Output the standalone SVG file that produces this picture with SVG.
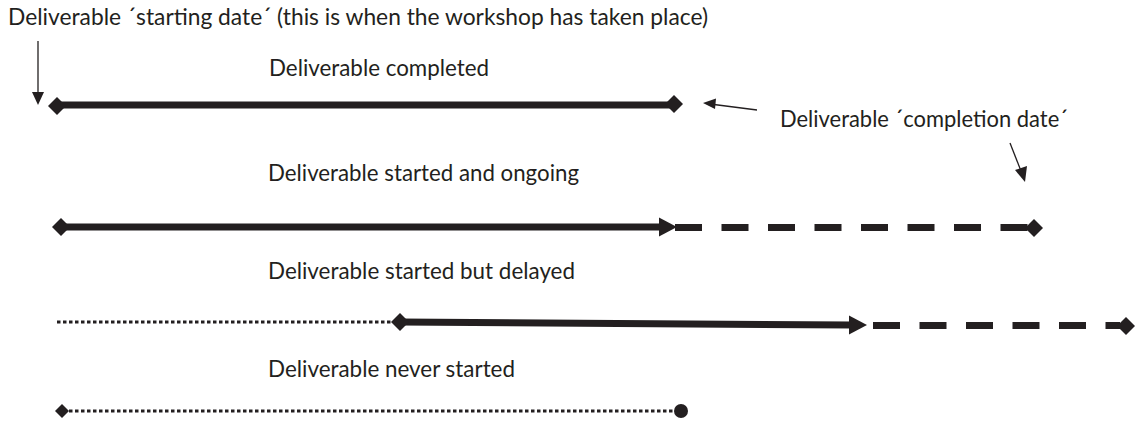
<svg xmlns="http://www.w3.org/2000/svg" xmlns:xlink="http://www.w3.org/1999/xlink" width="1135" height="421" viewBox="0 0 1135 421">
<style>
text{font-family:Lato,"Open Sans","Liberation Sans",sans-serif;font-size:23px;fill:#231f20}
.solid{stroke:#231f20;stroke-width:7;fill:none}
.dash{stroke:#231f20;stroke-width:7;fill:none;stroke-dasharray:27 19.5}
.dot{stroke:#231f20;stroke-width:3;fill:none;stroke-dasharray:3.5 2.5}
.thin{stroke:#231f20;stroke-width:1.3;fill:none}
.fill{fill:#231f20}
</style>
<defs>
<path id="dia" d="M-9,0 L0,-9 L9,0 L0,9Z" fill="#231f20"/>
<path id="diaS" d="M-7,0 L0,-7 L7,0 L0,7Z" fill="#231f20"/>
</defs>
<rect width="1135" height="421" fill="#fff"/>

<g id="label-start">
<text x="8" y="25" textLength="700" lengthAdjust="spacingAndGlyphs">Deliverable ´starting date´ (this is when the workshop has taken place)</text>
</g>
<g id="label-completion">
<text x="780" y="127" textLength="288" lengthAdjust="spacingAndGlyphs">Deliverable ´completion date´</text>
</g>

<g id="row-completed">
<text x="269" y="76" textLength="220" lengthAdjust="spacingAndGlyphs">Deliverable completed</text>
<line class="solid" x1="57" y1="105" x2="674" y2="105"/>
<use xlink:href="#dia" x="57" y="106"/>
<use xlink:href="#dia" x="674" y="104"/>
</g>

<g id="row-ongoing">
<text x="268" y="181" textLength="311" lengthAdjust="spacingAndGlyphs">Deliverable started and ongoing</text>
<line class="solid" x1="61" y1="227" x2="662" y2="227"/>
<polygon class="fill" points="659,217.5 677,227 659,236.5"/>
<line class="dash" x1="675" y1="227.5" x2="1028" y2="227.5"/>
<use xlink:href="#dia" x="61" y="227"/>
<use xlink:href="#dia" x="1034" y="228"/>
</g>

<g id="row-delayed">
<text x="268" y="279" textLength="307" lengthAdjust="spacingAndGlyphs">Deliverable started but delayed</text>
<line class="dot" x1="57" y1="322" x2="393" y2="322"/>
<line class="solid" x1="400" y1="322" x2="852" y2="325"/>
<polygon class="fill" points="849,315.5 867,325 849,334.5"/>
<line class="dash" x1="873" y1="325.5" x2="1120" y2="325.5"/>
<use xlink:href="#dia" x="400" y="322"/>
<use xlink:href="#dia" x="1126" y="326"/>
</g>

<g id="row-never">
<text x="268" y="377" textLength="247" lengthAdjust="spacingAndGlyphs">Deliverable never started</text>
<line class="dot" x1="69" y1="411" x2="676" y2="411"/>
<use xlink:href="#diaS" x="62" y="411"/>
<circle class="fill" cx="681" cy="411" r="7"/>
</g>

<g id="connectors">
<line class="thin" x1="38" y1="41" x2="38" y2="93"/>
<polygon class="fill" points="32,92 44,92 38,105"/>
<line class="thin" x1="757" y1="110" x2="714" y2="104.5"/>
<polygon class="fill" points="703,103 716,98.5 715,109"/>
<line class="thin" x1="1010" y1="143" x2="1021" y2="171"/>
<polygon class="fill" points="1025,182 1015,170 1027,166"/>
</g>
</svg>
